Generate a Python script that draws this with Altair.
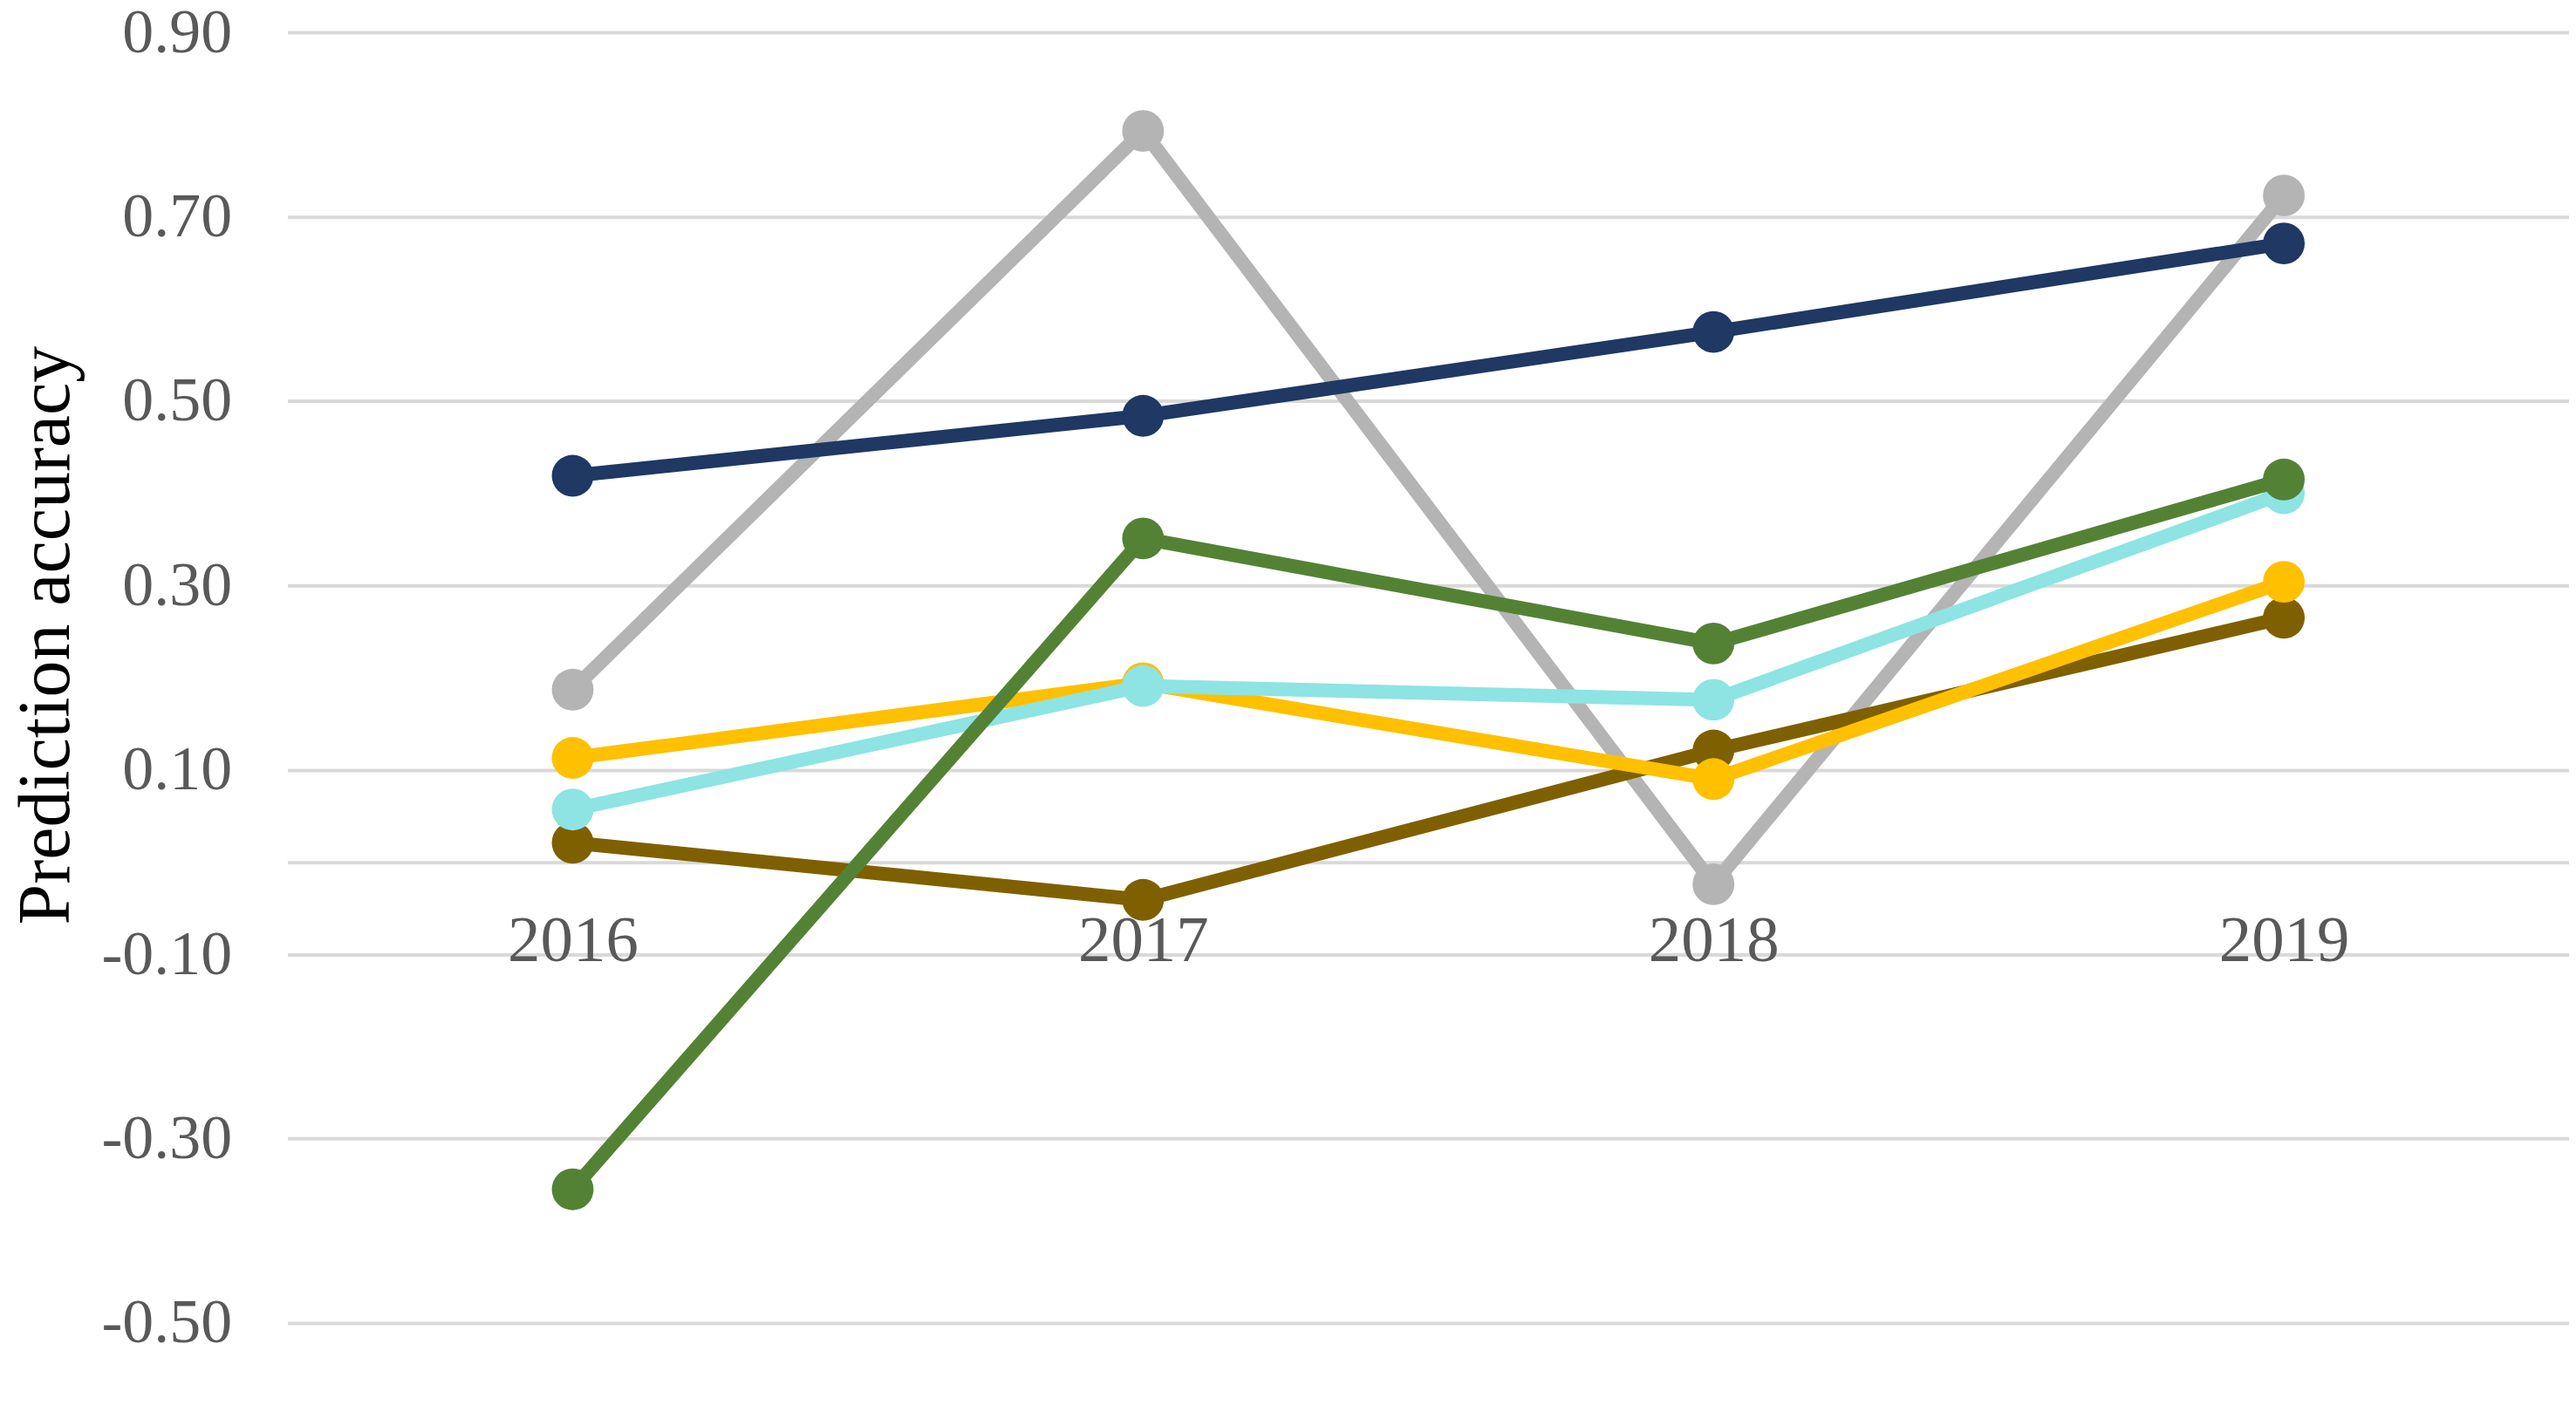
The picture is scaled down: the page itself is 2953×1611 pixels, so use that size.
import altair as alt
import pandas as pd

years = ["2016", "2017", "2018", "2019"]

series_names = ["Series A", "Series B", "Series C", "Series D", "Series E", "Series F"]
navy = [0.419, 0.484, 0.575, 0.671]
grey = [0.187, 0.793, -0.024, 0.723]
brown = [0.021, -0.041, 0.121, 0.265]
yellow = [0.113, 0.194, 0.090, 0.304]
cyan = [0.057, 0.191, 0.176, 0.400]
green = [-0.355, 0.351, 0.237, 0.415]

# drawing order (bottom to top)
series_values = [grey, navy, brown, yellow, cyan, green]
series_colors = ["#B4B4B4", "#1F3864", "#7F6000", "#FFC000", "#8DE4E3", "#548235"]

y_ticks = [-0.5, -0.3, -0.1, 0.1, 0.3, 0.5, 0.7, 0.9]

rows = []
for name, vals in zip(series_names, series_values):
    for yr, v in zip(years, vals):
        rows.append({"series": name, "year": yr, "value": v})
df = pd.DataFrame(rows)

FONT = "Liberation Serif"
H = 1482

x_enc = alt.X(
    "year:N",
    sort=years,
    scale=alt.Scale(type="point", padding=0.5),
    axis=alt.Axis(
        title=None,
        labelAngle=0,
        ticks=False,
        domain=True,
        domainColor="#D9D9D9",
        domainWidth=4,
        offset=-529,
        labelPadding=54,
        labelFontSize=75,
        labelFont=FONT,
        labelColor="#595959",
        grid=False,
    ),
)
y_enc = alt.Y(
    "value:Q",
    scale=alt.Scale(domain=[-0.5, 0.9], nice=False, zero=False),
    axis=alt.Axis(
        values=y_ticks,
        labelExpr="datum.value < 0 ? '-' + format(-datum.value, '.2f') : format(datum.value, '.2f')",
        grid=True,
        gridColor="#D9D9D9",
        gridWidth=4,
        domain=False,
        ticks=False,
        labelFontSize=72,
        labelFont=FONT,
        labelColor="#595959",
        labelPadding=64,
        title="Prediction accuracy",
        titleFont=FONT,
        titleFontSize=84,
        titleFontWeight="normal",
        titleColor="#000000",
        titleAngle=270,
        titleAlign="center",
        titleBaseline="middle",
        titleX=-276,
        titleY=692,
    ),
)

base = alt.Chart(df)
layers = []
for name, color in zip(series_names, series_colors):
    sub = base.transform_filter(alt.datum.series == name)
    layers.append(sub.mark_line(color=color, strokeWidth=16).encode(x=x_enc, y=y_enc))
    layers.append(
        sub.mark_point(filled=True, color=color, size=2300, opacity=1).encode(x=x_enc, y=y_enc)
    )

chart = (
    alt.layer(*layers)
    .properties(
        width=2619,
        height=H,
        autosize=alt.AutoSizeParams(type="none"),
        padding={"left": 322, "top": 28, "right": 0, "bottom": 80},
        background="white",
    )
    .configure_view(stroke=None)
)

chart.save("out.html", embed_options={"renderer": "svg", "actions": False})
